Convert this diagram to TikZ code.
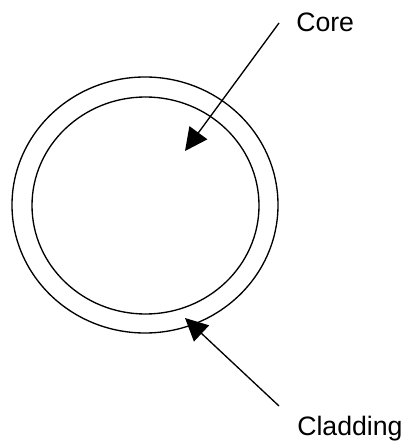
\documentclass[tikz,border=0pt]{standalone}
\usepackage{fontspec}
\setmainfont{Liberation Sans}
\usetikzlibrary{arrows.meta}
\begin{document}
\begin{tikzpicture}[x=0.75pt,y=-0.75pt,
  ring/.style={draw,line width=1pt},
  pointer/.style={draw,line width=1pt,-{Triangle[length=17pt,width=16.5pt]}},
  lbl/.style={inner sep=0pt,anchor=base west,font=\fontsize{20}{24}\selectfont}]
\useasboundingbox (0,0) rectangle (406,441);
\draw[ring] (145,205) ellipse [x radius=133, y radius=128];
\draw[ring] (145.5,205.5) ellipse [x radius=113.5, y radius=108.5];
\node[lbl] (core) at (296,32) {Core};
\node[lbl] (clad) at (297,435) {Cladding};
\coordinate (corestart) at (279,23);
\coordinate (coretip) at (185,151);
\coordinate (cladstart) at (279,406);
\coordinate (cladtip) at (185,318);
\draw[pointer] (corestart) -- (coretip);
\draw[pointer] (cladstart) -- (cladtip);
\end{tikzpicture}
\end{document}
